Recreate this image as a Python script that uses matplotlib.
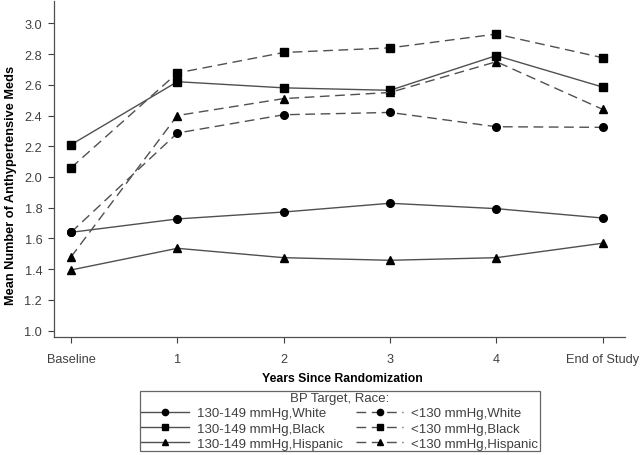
import numpy as np
import matplotlib
matplotlib.use('Agg')
import matplotlib.pyplot as plt

plt.rcParams['font.family'] = ['Liberation Sans', 'DejaVu Sans']

time_labels = ['Baseline', '1', '2', '3', '4', 'End of Study']

std_white = [1.64, 1.727, 1.772, 1.829, 1.794, 1.733]
std_black = [2.21, 2.62, 2.58, 2.564, 2.79, 2.585]
std_hisp = [1.395, 1.536, 1.475, 1.458, 1.475, 1.569]
int_white = [1.64, 2.286, 2.405, 2.42, 2.327, 2.323]
int_black = [2.06, 2.677, 2.81, 2.84, 2.93, 2.776]
int_hisp = [1.48, 2.40, 2.51, 2.55, 2.75, 2.44]

series = [
    ('130-149 mmHg,White', std_white, 'o', '-'),
    ('130-149 mmHg,Black', std_black, 's', '-'),
    ('130-149 mmHg,Hispanic', std_hisp, '^', '-'),
    ('<130 mmHg,White', int_white, 'o', '--'),
    ('<130 mmHg,Black', int_black, 's', '--'),
    ('<130 mmHg,Hispanic', int_hisp, '^', '--'),
]

line_col = '#505050'
text_col = '#404040'

fig = plt.figure(figsize=(6.4, 4.56), dpi=100)
ax = fig.add_axes([0.0844, 0.2588, 0.8922, 0.7368])

x = np.arange(len(time_labels))
for label, vals, mk, ls in series:
    kw = dict(color=line_col, linestyle=ls, linewidth=1.0, marker=mk,
              markersize=5.5, markerfacecolor='black', markeredgecolor='black',
              label=label)
    if ls == '--':
        kw['dashes'] = (7, 4)
    ax.plot(x, vals, **kw)

ax.set_xlim(-0.16, 5.21)
ax.set_ylim(0.959, 3.145)
ax.set_xticks(x)
ax.set_xticklabels(time_labels)
yt = np.arange(1.0, 3.01, 0.2)
ax.set_yticks(yt)
ax.set_yticklabels([f'{v:.1f}' for v in yt])
ax.tick_params(axis='both', labelsize=9.2, colors=text_col, length=4.5, width=0.8)
ax.tick_params(axis='x', pad=7)
ax.tick_params(axis='y', pad=4)
for s in ['top', 'right']:
    ax.spines[s].set_visible(False)
for s in ['left', 'bottom']:
    ax.spines[s].set_color(line_col)
    ax.spines[s].set_linewidth(0.9)

# axis titles placed in figure pixels to match the reference layout
fig.text(342 / 640, 1 - 379 / 456, 'Years Since Randomization', fontsize=8.8,
         fontweight='bold', ha='center', va='center')
fig.text(11 / 640, 1 - 185 / 456, 'Mean Number of Anthypertensive Meds', fontsize=9.2,
         fontweight='bold', ha='center', va='center', rotation=90)

leg = fig.legend(loc='upper center', bbox_to_anchor=(0.531, 0.141), ncol=2,
                 title='BP Target, Race:', fontsize=9.5, title_fontsize=9.5,
                 frameon=True, fancybox=False, edgecolor='#404040',
                 handlelength=3.6, columnspacing=1.0, labelspacing=0.22,
                 borderpad=0.12, handletextpad=0.6, borderaxespad=0)
leg.get_frame().set_linewidth(0.9)
for t in leg.get_texts():
    t.set_color(text_col)
leg.get_title().set_color(text_col)
for h in leg.legend_handles:
    h.set_markersize(4.5)

fig.savefig('out.png', dpi=100)
